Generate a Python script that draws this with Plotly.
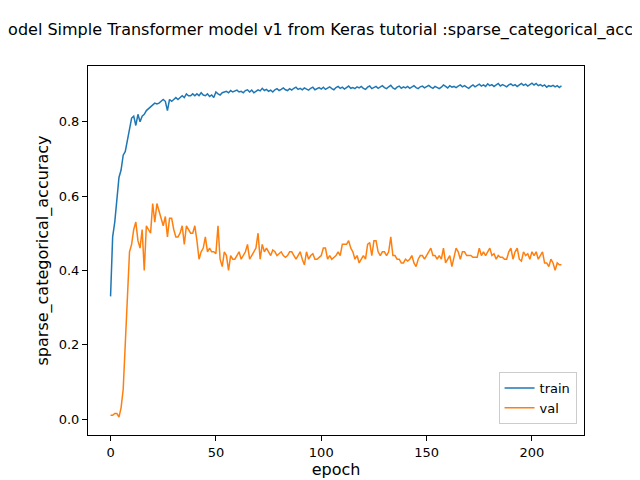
import plotly.graph_objects as go

train = [
    .33, .49, .53, .60, .65, .67, .71, .72, .75, .79,
    .81, .815, .79, .82, .80, .815, .82, .83, .835, .84,
    .845, .85, .848, .85, .855, .86, .855, .83, .86, .855,
    .86, .865, .86, .865, .87, .865, .875, .87, .87, .875,
    .87, .875, .87, .878, .872, .87, .875, .868, .872, .865,
    .88, .875, .872, .878, .88, .882, .878, .884, .88, .882,
    .885, .88, .882, .878, .884, .886, .88, .885, .878, .882,
    .886, .883, .89, .884, .887, .882, .885, .88, .886, .889,
    .884, .887, .891, .886, .884, .889, .885, .89, .893, .887,
    .89, .886, .891, .888, .885, .89, .893, .886, .889, .892,
    .888, .893, .887, .891, .894, .889, .886, .892, .895, .89,
    .893, .888, .891, .896, .89, .892, .889, .894, .891, .895,
    .89, .887, .893, .896, .889, .892, .895, .89, .893, .897,
    .892, .889, .894, .898, .891, .888, .893, .896, .89, .894,
    .891, .895, .89, .893, .897, .892, .889, .894, .896, .891,
    .894, .898, .893, .89, .895, .892, .889, .893, .899, .895,
    .891, .897, .893, .895, .892, .896, .899, .894, .897, .893,
    .89, .895, .899, .894, .897, .901, .896, .899, .895, .902,
    .897, .9, .895, .899, .903, .896, .9, .897, .894, .899,
    .902, .897, .9, .895, .899, .903, .898, .901, .896, .9,
    .904, .899, .903, .897, .9, .896, .899, .893, .897, .895,
    .898, .894, .897, .892, .897,
]

val = [
    .01, .01, .015, .015, .005, .03, .08, .2, .33, .45,
    .47, .51, .53, .48, .46, .51, .40, .52, .51, .50,
    .58, .53, .58, .56, .54, .52, .545, .49, .54, .54,
    .51, .49, .49, .50, .52, .47, .52, .51, .50, .50,
    .52, .48, .43, .45, .46, .49, .45, .46, .45, .45,
    .445, .52, .43, .41, .45, .44, .40, .44, .43, .43,
    .44, .45, .43, .44, .45, .47, .43, .44, .45, .46,
    .50, .43, .47, .45, .46, .45, .44, .455, .45, .44,
    .445, .45, .44, .435, .44, .45, .45, .44, .43, .44,
    .45, .43, .415, .45, .43, .44, .445, .43, .43, .435,
    .44, .46, .46, .43, .44, .43, .435, .44, .45, .44,
    .47, .47, .47, .48, .46, .45, .43, .44, .42, .43,
    .44, .43, .47, .475, .44, .48, .48, .45, .44, .45,
    .45, .44, .45, .49, .44, .44, .43, .43, .42, .42,
    .43, .425, .43, .44, .42, .41, .43, .44, .44, .43,
    .44, .45, .46, .44, .44, .43, .44, .43, .46, .42,
    .43, .44, .41, .44, .46, .45, .43, .45, .45, .44,
    .44, .44, .435, .435, .435, .46, .44, .45, .44, .45,
    .46, .44, .445, .43, .44, .435, .435, .43, .43, .45,
    .46, .43, .45, .46, .43, .425, .45, .44, .445, .43,
    .45, .44, .45, .43, .44, .45, .42, .42, .41, .43,
    .42, .40, .42, .415, .415,
]

epochs = list(range(len(train)))

fig = go.Figure()
fig.add_trace(go.Scatter(x=epochs, y=train, mode="lines", name="train",
                         line=dict(color="#1f77b4", width=1.5)))
fig.add_trace(go.Scatter(x=epochs, y=val, mode="lines", name="val",
                         line=dict(color="#ff7f0e", width=1.5)))

axis = dict(showgrid=False, zeroline=False, showline=True, mirror=True,
            linecolor="black", linewidth=1, ticks="outside", ticklen=5,
            tickcolor="black", tickfont=dict(size=13, color="black"),
            automargin=False)

fig.update_layout(
    width=640, height=480,
    margin=dict(l=80, r=64, t=58, b=53),
    paper_bgcolor="white", plot_bgcolor="white",
    font=dict(family="DejaVu Sans", color="black"),
    title=dict(text="Model Simple Transformer model v1 from Keras tutorial :sparse_categorical_accuracy",
               x=0.5125, xanchor="center", y=0.955, yanchor="middle",
               font=dict(size=16)),
    xaxis=dict(axis, range=[-10.7, 224.7], tickvals=[0, 50, 100, 150, 200],
               title=dict(text="epoch", font=dict(size=16), standoff=5)),
    yaxis=dict(axis, range=[-0.043, 0.95], tickvals=[0, 0.2, 0.4, 0.6, 0.8],
               ticktext=["0.0", "0.2", "0.4", "0.6", "0.8"],
               title=dict(text="sparse_categorical_accuracy", font=dict(size=16), standoff=6)),
    legend=dict(x=0.985, y=0.03, xanchor="right", yanchor="bottom",
                bordercolor="#cccccc", borderwidth=1, font=dict(size=13)),
    showlegend=True,
)

fig.write_html("out.html")
